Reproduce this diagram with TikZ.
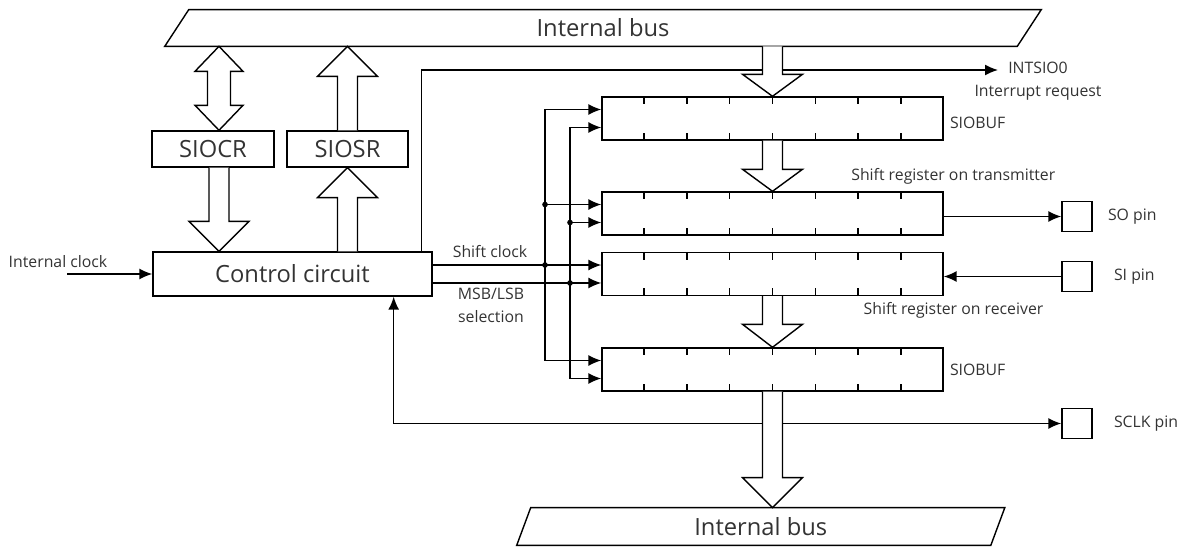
\documentclass[tikz,border=0pt]{standalone}
\usepackage{fontspec}
\setmainfont{Open Sans}
\usetikzlibrary{arrows.meta,positioning,calc}

% hollow bus arrow: [head length]{from}{to}, vertical only
\newcommand{\fatarrow}[3][0.6cm]{%
  \draw[fat] let \p1=(#2), \p2=(#3), \n1={sign(\y2-\y1)} in
    ({\x1-0.2cm},\y1) -- ({\x1-0.2cm},{\y2-(\n1)*#1}) -- ({\x1-0.6cm},{\y2-(\n1)*#1})
    -- (\x1,\y2) -- ({\x1+0.6cm},{\y2-(\n1)*#1}) -- ({\x1+0.2cm},{\y2-(\n1)*#1})
    -- ({\x1+0.2cm},\y1);}
% hollow arrow with two heads
\newcommand{\fatboth}[2]{%
  \draw[fat] let \p1=(#1), \p2=(#2), \n1={sign(\y2-\y1)} in
    (\x1,\y1) -- ({\x1-0.48cm},{\y1+(\n1)*0.5cm}) -- ({\x1-0.23cm},{\y1+(\n1)*0.5cm})
    -- ({\x1-0.23cm},{\y2-(\n1)*0.5cm}) -- ({\x1-0.48cm},{\y2-(\n1)*0.5cm}) -- (\x1,\y2)
    -- ({\x1+0.48cm},{\y2-(\n1)*0.5cm}) -- ({\x1+0.23cm},{\y2-(\n1)*0.5cm})
    -- ({\x1+0.23cm},{\y1+(\n1)*0.5cm}) -- ({\x1+0.48cm},{\y1+(\n1)*0.5cm}) -- cycle;}

\begin{document}
\begin{tikzpicture}[x=0.02cm, y=-0.02cm,
  box/.style={draw, line width=0.8pt, minimum height=0.72cm, inner sep=0pt, text=black!80, font=\fontsize{13.5}{16}\selectfont},
  bus/.style={minimum height=0.72cm, inner sep=0pt, text=black!80, font=\fontsize{13.5}{16}\selectfont},
  reg/.style={draw, line width=0.8pt, minimum width=6.82cm, minimum height=0.86cm, inner sep=0pt},
  pin/.style={draw, line width=0.8pt, minimum size=0.6cm, inner sep=0pt},
  lbl/.style={font=\fontsize{9}{13}\selectfont, text=black!80, inner sep=0pt, align=center},
  arr/.style={-{Latex[length=2.6mm, width=2.2mm]}, line width=0.8pt},
  arrboth/.style={{Latex[length=2.6mm, width=2.2mm]}-{Latex[length=2.6mm, width=2.2mm]}, line width=0.8pt},
  fat/.style={draw, fill=white, line width=0.8pt},
  dot/.style={circle, fill, inner sep=0pt, minimum size=3.2pt}
]
\useasboundingbox (0,0) rectangle (1186,547);

% buses
\node[bus, minimum width=17.04cm] (busa) at (603,28) {Internal bus};
\draw[line width=0.8pt] ([xshift=-0.24cm]busa.south west) -- ([xshift=0.24cm]busa.north west)
  -- ([xshift=0.24cm]busa.north east) -- ([xshift=-0.24cm]busa.south east) -- cycle;
\node[bus, minimum width=9.47cm, minimum height=0.74cm] (busb) at (760.75,526.5) {Internal bus};
\draw[line width=0.8pt] ([xshift=-0.14cm]busb.south west) -- ([xshift=0.14cm]busb.north west)
  -- ([xshift=0.14cm]busb.north east) -- ([xshift=-0.14cm]busb.south east) -- cycle;

% control side
\node[box, minimum width=2.44cm] (siocr) at (213,149) {SIOCR};
\node[box, minimum width=2.42cm] (siosr) at (347.5,149) {SIOSR};
\node[box, minimum width=5.58cm, minimum height=0.88cm] (ctrl) at (292.5,274) {Control circuit};
\coordinate (crtop) at ([xshift=0.12cm]siocr.north);
\coordinate (crbot) at ([xshift=0.12cm]siocr.south);

% registers
\node[reg] (siobufa) at (772.5,118.5) {};
\node[reg] (shtx) at (772.5,213.5) {};
\node[reg] (shrx) at (772.5,274) {};
\node[reg] (siobufb) at (772.5,369.5) {};
\foreach \r in {siobufa,shtx,shrx,siobufb} {
  \foreach \i in {1,...,7} {
    \draw[line width=0.8pt] ($(\r.north west)!{\i/8}!(\r.north east)$) -- ++(0,8);
    \draw[line width=0.8pt] ($(\r.south west)!{\i/8}!(\r.south east)$) -- ++(0,-8);
  }
  \coordinate (\r-a) at ([yshift=0.18cm]\r.west);
  \coordinate (\r-b) at ([yshift=-0.18cm]\r.west);
}
\node[lbl, anchor=west] (bufalbl) at ([xshift=0.12cm, yshift=-0.09cm]siobufa.east) {SIOBUF};
\node[lbl, right=0.12cm of siobufb] (bufblbl) {SIOBUF};
\node[lbl, anchor=east] (txlbl) at ([xshift=2.24cm, yshift=0.3cm]shtx.north east) {Shift register on transmitter};
\node[lbl, anchor=east] (rxlbl) at ([xshift=2cm, yshift=-0.28cm]shrx.south east) {Shift register on receiver};

% pins
\node[pin] (sopin) at (1077,216.5) {};
\node[pin] (sipin) at (1077,276.5) {};
\node[pin] (sclkpin) at (1077,423.5) {};
\node[lbl, right=0.3cm of sopin] (solbl) {SO pin};
\node[lbl, right=0.42cm of sipin] (silbl) {SI pin};
\node[lbl, right=0.42cm of sclkpin] (sclklbl) {SCLK pin};

% clock and selection lines
\coordinate (clk) at (545,0);
\coordinate (msb) at (570,0);
\coordinate (clkin) at (67,274);
\coordinate (intsio) at (998,70);
\node[lbl] (inlbl) at (58,262) {Internal clock};
\node[lbl] (shlbl) at (490,252) {Shift clock};
\node[lbl] (msblbl) at (491,305) {MSB/LSB\\selection};
\node[lbl] (intlbl) at (1038,81) {INTSIO0\\Interrupt request};

\draw[arr] (clkin) -- (ctrl.west);
\draw[arr] (ctrl.east |- shrx-a) -- (shrx-a);
\draw[arr] (ctrl.east |- shrx-b) -- (shrx-b);
\draw[arr] (clk |- siobufb-a) |- (siobufa-a);
\draw[arr] (clk |- siobufa-a) |- (siobufb-a);
\draw[arr] (clk |- shtx-a) -- (shtx-a);
\draw[arr] (msb |- siobufb-b) |- (siobufa-b);
\draw[arr] (msb |- siobufa-b) |- (siobufb-b);
\draw[arr] (msb |- shtx-b) -- (shtx-b);
\node[dot] (d1) at (clk |- shtx-a) {};
\node[dot] (d2) at (clk |- shrx-a) {};
\node[dot] (d3) at (msb |- shtx-b) {};
\node[dot] (d4) at (msb |- shrx-b) {};

\draw[arr] ([xshift=-0.22cm]ctrl.north east) |- (intsio);
\draw[arrboth] ([xshift=-0.78cm]ctrl.south east) |- (sclkpin.west);
\draw[arr] (shtx.east |- sopin) -- (sopin.west);
\draw[arr] (sipin.west) -- (shrx.east |- sipin);

% bus arrows
\fatboth{crtop |- busa.south}{crtop}
\fatarrow{crbot}{crbot |- ctrl.north}
\fatarrow{siosr.north}{siosr.north |- busa.south}
\fatarrow{ctrl.north -| siosr.south}{siosr.south}
\fatarrow[0.44cm]{siobufa.north |- busa.south}{siobufa.north}
\fatarrow[0.44cm]{siobufa.south}{shtx.north}
\fatarrow[0.46cm]{shrx.south}{siobufb.north}
\fatarrow{siobufb.south}{siobufb.south |- busb.north}
\end{tikzpicture}
\end{document}
